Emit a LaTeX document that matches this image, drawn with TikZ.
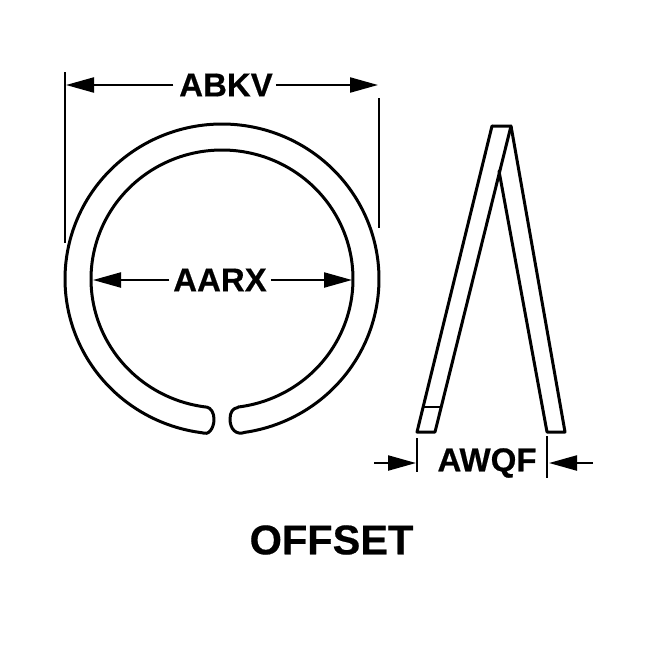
\documentclass[tikz,border=0pt]{standalone}
\usepackage{fontspec}
\setmainfont{Liberation Sans}
\newfontfamily\labfont[FakeBold=0.5]{Liberation Sans Bold}
\usetikzlibrary{arrows.meta}
\tikzset{
 outl/.style={line width=3pt,line join=round,line cap=round},
 thinl/.style={line width=2.2pt},
 dimline/.style={line width=2.2pt,-{Triangle[length=28pt,width=15pt]}},
 lab/.style={font=\fontsize{33}{33}\labfont\selectfont,inner sep=0pt,outer sep=0pt,text=black},
}
\begin{document}
\begin{tikzpicture}[x=1pt,y=-1pt]
\useasboundingbox (0,0) rectangle (660,656);
\fill[white] (0,0) rectangle (660,656);
% ring
\draw[outl] plot[samples=240,domain=97:441.6] ({222+157*cos(\x)},{279+155*sin(\x)})
  .. controls (236,435.5) and (230,429) .. (230,419)
  .. controls (230,412) and (233,408) .. (238,407.5)
  -- plot[samples=240,domain=443:96.6] ({222+131*cos(\x)},{279+129*sin(\x)})
  .. controls (211,408) and (214,413) .. (214,419)
  .. controls (214,429) and (208,435.5) .. (203,433) -- cycle;
% side view
\draw[outl] (492,126) -- (511,126) -- (565,432) -- (547,432) -- (499,171);
\draw[outl] (511,126) -- (435,432) -- (417,432) -- (492,126);
\draw[outl,line width=2.2pt] (424,407) -- (441,407);
% extension lines
\coordinate (e1a) at (65,72);  \coordinate (e1b) at (65,243);
\coordinate (e2a) at (379,98); \coordinate (e2b) at (379,228);
\coordinate (e3a) at (417,438); \coordinate (e3b) at (417,472);
\coordinate (e4a) at (547,436); \coordinate (e4b) at (547,478);
\draw[thinl] (e1a) -- (e1b);
\draw[thinl] (e2a) -- (e2b);
\draw[thinl] (e3a) -- (e3b);
\draw[thinl] (e4a) -- (e4b);
% labels
\node[lab] (abkv) at (226,85) {ABKV};
\node[lab] (aarx) at (220,280) {AARX};
\node[lab] (awqf) at (487,463) {AWQF};
\node[lab,font=\fontsize{41.5}{42}\labfont\selectfont] (offset) at (331.5,540) {OFFSET};
% dimension arrows
\coordinate (a1) at (66,85);  \coordinate (a2) at (378,85);
\coordinate (b1) at (93,280); \coordinate (b2) at (352,280);
\coordinate (c0) at (374,463); \coordinate (c1) at (416,463);
\coordinate (d0) at (593,463); \coordinate (d1) at (549,463);
\draw[dimline] (abkv.west) ++(-6,0) -- (a1);
\draw[dimline] (abkv.east) ++(3,0) -- (a2);
\draw[dimline] (aarx.west) ++(-4,0) -- (b1);
\draw[dimline] (aarx.east) ++(4,0) -- (b2);
\draw[dimline] (c0) -- (c1);
\draw[dimline] (d0) -- (d1);
\end{tikzpicture}
\end{document}
